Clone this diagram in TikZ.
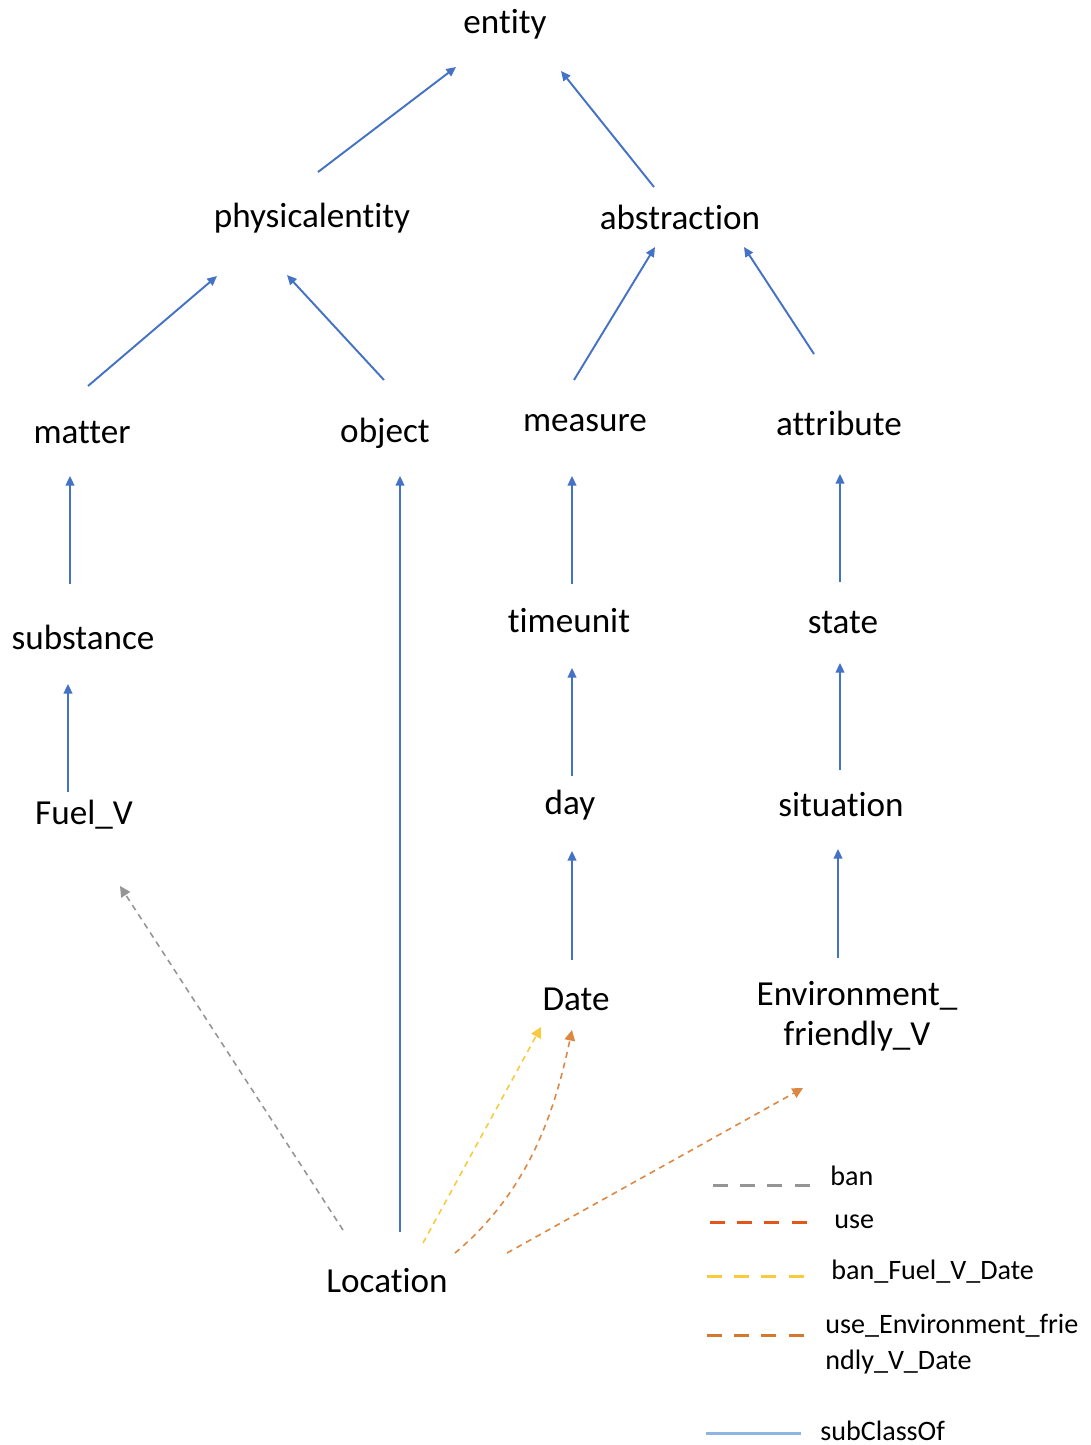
\documentclass[tikz,border=0pt]{standalone}
\usepackage{fontspec}
\setmainfont{Carlito}[Ligatures=NoCommon]
\usetikzlibrary{calc}
\usetikzlibrary{arrows.meta}
\definecolor{subblue}{HTML}{4472C4}
\definecolor{legblue}{HTML}{8DB4E2}
\definecolor{bangray}{HTML}{959595}
\definecolor{banyellow}{HTML}{F9CB3C}
\definecolor{useorange}{HTML}{DC8843}
\definecolor{usered}{HTML}{E2561C}
\definecolor{legorange}{HTML}{D3782F}

\begin{document}
\begin{tikzpicture}[x=0.02cm, y=-0.02cm,
  cls/.style={font=\fontsize{20}{22.7}\selectfont, inner sep=1pt, align=center},
  leg/.style={font=\fontsize{16}{20.4}\selectfont, anchor=west, inner sep=0pt, align=left},
  sub/.style={subblue, line width=1.1pt, -{Triangle[length=5.5pt, width=5pt]}},
  rel/.style={line width=0.9pt, dash pattern=on 3.4pt off 2.8pt, -{Triangle[length=6pt, width=6pt]}},
  legline/.style={line width=1.7pt, dash pattern=on 8.5pt off 7pt}]

\useasboundingbox (0,0) rectangle (1090,1445);

\node[cls] (entity) at (505,24) {entity};
\node[cls] (physicalentity) at (312,218) {physicalentity};
\node[cls] (abstraction) at (680,217) {abstraction};
\node[cls] (matter) at (82,433) {matter};
\node[cls] (object) at (385,433) {object};
\node[cls] (measure) at (585,423) {measure};
\node[cls] (attribute) at (839,423) {attribute};
\node[cls] (substance) at (83,637) {substance};
\node[cls] (timeunit) at (569,621) {timeunit};
\node[cls] (state) at (843,623) {state};
\node[cls] (fuel) at (84,815) {Fuel\_V};
\node[cls] (day) at (570,805) {day};
\node[cls] (situation) at (841,805) {situation};
\node[cls] (date) at (576,999) {Date};
\node[cls] (envfriendly) at (857,1016) {Environment\_\\friendly\_V};
\node[cls] (location) at (387,1281) {Location};

% subClassOf
\draw[sub] ($(physicalentity)+(6,-46)$) -- ($(entity)+(-49,43)$);
\draw[sub] ($(abstraction)+(-26,-30)$) -- ($(entity)+(56,47)$);
\draw[sub] ($(matter)+(6,-47)$) -- ($(physicalentity)+(-95,58)$);
\draw[sub] ($(object)+(-1,-53)$) -- ($(physicalentity)+(-25,57)$);
\draw[sub] ($(measure)+(-11,-43)$) -- ($(abstraction)+(-25,30)$);
\draw[sub] ($(attribute)+(-25,-69)$) -- ($(abstraction)+(64,30)$);
\draw[sub] ($(substance)+(-13,-53)$) -- ($(matter)+(-12,43)$);
\draw[sub] ($(location)+(13,-49)$) -- ($(object)+(15,43)$);
\draw[sub] ($(timeunit)+(3,-37)$) -- ($(measure)+(-13,53)$);
\draw[sub] ($(state)+(-3,-41)$) -- ($(attribute)+(1,51)$);
\draw[sub] ($(fuel)+(-16,-23)$) -- ($(substance)+(-15,47)$);
\draw[sub] ($(day)+(2,-29)$) -- ($(timeunit)+(3,47)$);
\draw[sub] ($(situation)+(-1,-35)$) -- ($(state)+(-3,40)$);
\draw[sub] ($(date)+(-4,-39)$) -- ($(day)+(2,46)$);
\draw[sub] ($(envfriendly)+(-19,-58)$) -- ($(situation)+(-3,44)$);

% relations from Location
\draw[rel, bangray] ($(location)+(-44,-51)$) -- ($(fuel)+(36,71)$);
\draw[rel, banyellow] ($(location)+(36,-38)$) -- ($(date)+(-35,28)$);
\draw[rel, useorange] ($(location)+(68,-28)$) .. controls ($(location)+(143,-91)$) and ($(date)+(-21,111)$) .. ($(date)+(-4,31)$);
\draw[rel, useorange] ($(location)+(120,-28)$) -- ($(envfriendly)+(-54,72)$);

% legend
\node[leg] (lban) at (830,1176) {ban};
\node[leg] (luse) at (834,1222) {use};
\node[leg] (lbanfd) at (831,1272) {ban\_Fuel\_V\_Date};
\node[leg] (lusefd) at (825,1344) {use\_Environment\_frie\\ndly\_V\_Date};
\node[leg] (lsub) at (820,1431) {subClassOf};

\draw[legline, bangray] (713,1185) -- (812,1185);
\draw[legline, usered] (710,1222) -- (810,1222);
\draw[legline, banyellow] (707,1276) -- (807,1276);
\draw[legline, legorange] (707,1335) -- (807,1335);
\draw[legblue, line width=1.7pt] (706,1433) -- (801,1433);

\end{tikzpicture}
\end{document}
